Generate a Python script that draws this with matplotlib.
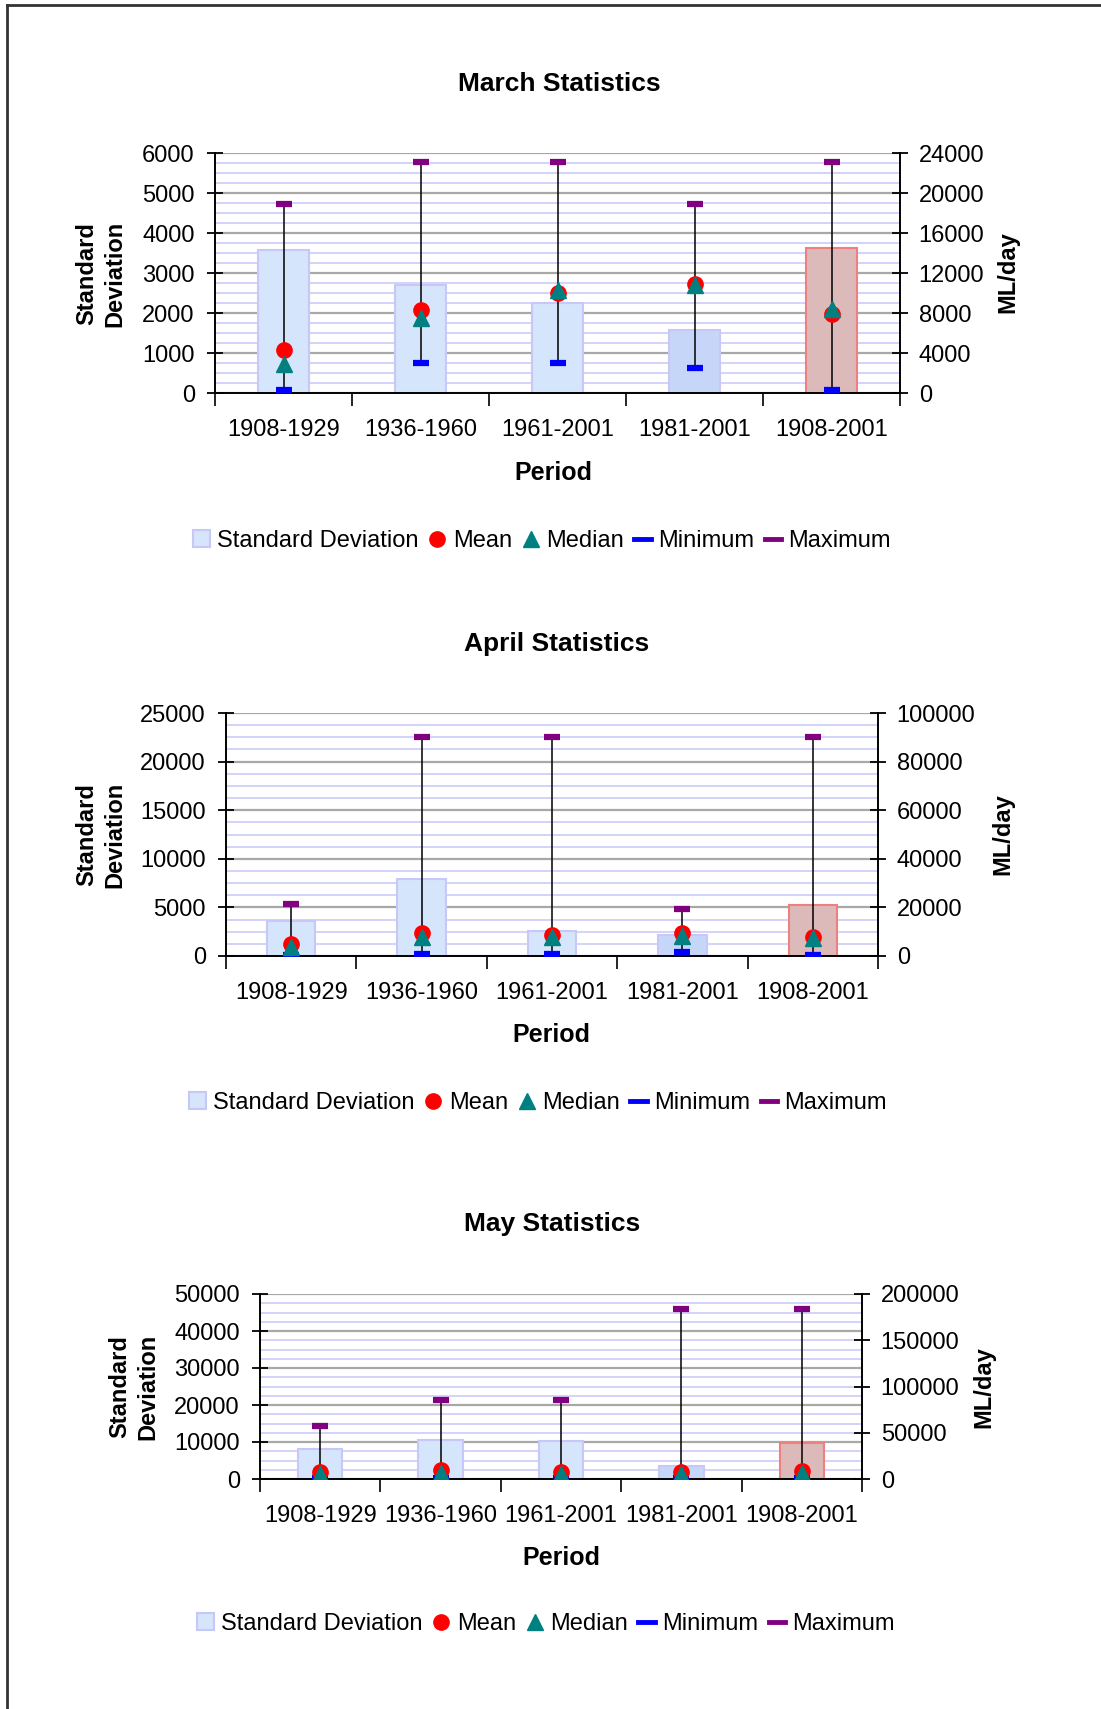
import matplotlib
matplotlib.use("Agg")
import matplotlib.pyplot as plt
from matplotlib.lines import Line2D
from matplotlib.patches import Patch
import numpy as np

plt.rcParams['font.family'] = ['Liberation Sans', 'DejaVu Sans']

periods = ["1908-1929", "1936-1960", "1961-2001", "1981-2001", "1908-2001"]

# March
mar_sd = [3570, 2700, 2240, 1570, 3620]
mar_mean = [4270, 8270, 10000, 10900, 7930]
mar_median = [2870, 7500, 10270, 10800, 8400]
mar_min = [330, 3030, 3030, 2500, 330]
mar_max = [18930, 23100, 23100, 18930, 23100]

# April
apr_sd = [3600, 7930, 2610, 2130, 5290]
apr_mean = [4800, 9340, 8640, 9340, 7960]
apr_median = [3570, 7970, 7970, 8100, 7550]
apr_min = [400, 680, 680, 1800, 400]
apr_max = [21560, 90250, 90250, 19360, 90250]

# May
may_sd = [8100, 10540, 10270, 3420, 9820]
may_mean = [7930, 9370, 7930, 7570, 8650]
may_median = [5800, 6800, 5800, 5400, 6300]
may_min = [700, 700, 700, 900, 700]
may_max = [57250, 85500, 85500, 183700, 183700]

W, H = 1101, 1709
fig = plt.figure(figsize=(W / 100, H / 100), dpi=100)

FS = 17
BAR_FACE = ['#d5e5fb', '#d5e5fb', '#d5e5fb', '#c6d6f8', '#ddbaba']
BAR_EDGE = ['#c8c8f8', '#c8c8f8', '#c8c8f8', '#c8c8f8', '#f08080']


def px_axes(l, r, t, b):
    return fig.add_axes([l / W, 1 - b / H, (r - l) / W, (b - t) / H])


def panel(box, title, title_xy, sd, mean, median, vmin, vmax,
          lmax, lstep, rmax, rstep, ylab_xy, rlab_xy, period_xy, legend_xy):
    l, r, t, b = box
    ax = px_axes(l, r, t, b)
    x = np.arange(len(periods))
    ax.bar(x, sd, width=0.37, color=BAR_FACE, edgecolor=BAR_EDGE, linewidth=1.5, zorder=2)
    ax.set_xlim(-0.5, len(periods) - 0.5)
    ax.set_ylim(0, lmax)
    ax.set_yticks(np.arange(0, lmax + 1, lstep))
    ax.set_yticks(np.arange(0, lmax + 1, lstep / 4), minor=True)
    ax.grid(axis='y', which='minor', color='#d0d0fa', lw=1.3, zorder=0)
    ax.grid(axis='y', which='major', color='#a8a8a8', lw=1.6, zorder=0)
    ax.set_axisbelow(True)
    ax.set_xticks(x)
    ax.set_xticklabels(periods, fontsize=FS)
    ax.set_xticks(np.arange(-0.5, len(periods)), minor=True)
    ax.tick_params(axis='x', which='major', length=0, pad=19)
    ax.tick_params(axis='x', which='minor', length=9, width=1.2, direction='out')
    ax.tick_params(axis='y', which='major', length=11, width=1.3, direction='inout',
                   labelsize=FS, pad=9)
    ax.tick_params(axis='y', which='minor', length=0)
    for s in ['top', 'right']:
        ax.spines[s].set_visible(False)
    ax.spines['left'].set_linewidth(1.4)
    ax.spines['bottom'].set_linewidth(1.4)
    ax.yaxis.set_major_formatter(matplotlib.ticker.FuncFormatter(lambda v, p: f"{int(v)}"))

    ax2 = ax.twinx()
    ax2.set_ylim(0, rmax)
    ax2.set_yticks(np.arange(0, rmax + 1, rstep))
    ax2.yaxis.set_major_formatter(matplotlib.ticker.FuncFormatter(lambda v, p: f"{int(v)}"))
    ax2.tick_params(axis='y', length=11, width=1.3, direction='inout', labelsize=FS, pad=8)
    for s in ['top', 'left', 'bottom']:
        ax2.spines[s].set_visible(False)
    ax2.spines['right'].set_linewidth(1.4)
    ax2.vlines(x, vmin, vmax, color='black', lw=1.1, zorder=3)
    ax2.plot(x, vmin, ls='none', marker='_', ms=12, mew=4.5, color='#0000ff', zorder=4)
    ax2.plot(x, vmax, ls='none', marker='_', ms=12, mew=4.5, color='#800080', zorder=4)
    ax2.plot(x, mean, ls='none', marker='o', ms=11, color='#ff0000', mec='#ff0000', zorder=5)
    ax2.plot(x, median, ls='none', marker='^', ms=11, color='#008080', mec='#008080', zorder=6)

    fig.text(title_xy[0] / W, 1 - title_xy[1] / H, title, fontsize=19, fontweight='bold',
             ha='center', va='center')
    fig.text(ylab_xy[0] / W, 1 - ylab_xy[1] / H, "Standard\nDeviation", fontsize=FS,
             fontweight='bold', rotation=90, ha='center', va='center', linespacing=1.3)
    fig.text(rlab_xy[0] / W, 1 - rlab_xy[1] / H, "ML/day", fontsize=FS,
             fontweight='bold', rotation=90, ha='center', va='center')
    fig.text(period_xy[0] / W, 1 - period_xy[1] / H, "Period", fontsize=FS + 1,
             fontweight='bold', ha='center', va='center')

    handles = [
        Patch(facecolor='#d5e5fb', edgecolor='#c8c8f8', lw=1.5),
        Line2D([], [], ls='none', marker='o', ms=11, color='#ff0000'),
        Line2D([], [], ls='none', marker='^', ms=11, color='#008080'),
        Line2D([], [], color='#0000ff', lw=3.5),
        Line2D([], [], color='#800080', lw=3.5),
    ]
    labels = ["Standard Deviation", "Mean", "Median", "Minimum", "Maximum"]
    fig.legend(handles, labels, loc='center', ncol=5, frameon=False, fontsize=FS,
               bbox_to_anchor=(legend_xy[0] / W, 1 - legend_xy[1] / H),
               handlelength=0.7, handleheight=0.7, handletextpad=0.3, columnspacing=0.45,
               borderaxespad=0)
    return ax, ax2


panel((215, 900, 153, 393), "March Statistics", (559, 84),
      mar_sd, mar_mean, mar_median, mar_min, mar_max,
      6000, 1000, 24000, 4000, (101, 274), (1008, 272), (553, 473), (542, 541))

panel((226, 878, 713, 956), "April Statistics", (557, 644),
      apr_sd, apr_mean, apr_median, apr_min, apr_max,
      25000, 5000, 100000, 20000, (101, 835), (1003, 834), (551, 1035), (538, 1103))

panel((260, 862, 1294, 1479), "May Statistics", (552, 1224),
      may_sd, may_mean, may_median, may_min, may_max,
      50000, 10000, 200000, 50000, (134, 1387), (984, 1387), (561, 1558), (546, 1624))

# outer frame lines (top and left)
fig.add_artist(Line2D([7 / W, 1], [1 - 5 / H, 1 - 5 / H], color='#333333', lw=2))
fig.add_artist(Line2D([7 / W, 7 / W], [0, 1 - 5 / H], color='#333333', lw=2))

fig.savefig("out.png", dpi=100)
